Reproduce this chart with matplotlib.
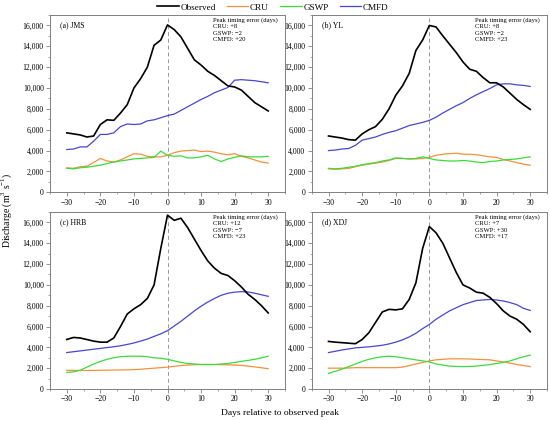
import matplotlib
matplotlib.use("Agg")
import matplotlib.pyplot as plt
from matplotlib.ticker import FuncFormatter, MultipleLocator
import numpy as np

plt.rcParams['font.family'] = ['Liberation Serif', 'DejaVu Serif']
plt.rcParams['mathtext.fontset'] = 'custom'
plt.rcParams['mathtext.rm'] = 'Liberation Serif'

days = list(range(-30, 31, 2))

# Panel (a) JMS
jms_obs  = [5700, 5600, 5500, 5300, 5400, 6500, 6950, 6900, 7600, 8400, 10000, 10900, 12000, 14100, 14600,
            16050, 15600, 14900, 13800, 12700, 12200, 11600, 11200, 10700, 10200, 10100, 9800, 9200, 8600, 8200, 7800]
jms_cru  = [2350, 2300, 2450, 2500, 2850, 3250, 3000, 2900, 3100, 3400, 3700, 3650, 3450, 3400, 3400,
            3550, 3800, 3950, 4000, 4050, 3900, 3950, 3850, 3700, 3600, 3700, 3450, 3300, 3100, 2900, 2800]
jms_gswp = [2300, 2250, 2350, 2400, 2500, 2600, 2750, 2900, 3000, 3100, 3200, 3250, 3300, 3350, 3950,
            3550, 3450, 3500, 3300, 3300, 3400, 3550, 3200, 2950, 3200, 3350, 3500, 3400, 3400, 3400, 3450]
jms_cmfd = [4100, 4150, 4350, 4350, 4900, 5550, 5550, 5700, 6300, 6550, 6500, 6550, 6850, 6950, 7150,
            7350, 7500, 7850, 8200, 8550, 8900, 9200, 9550, 9800, 10050, 10750, 10800, 10750, 10700, 10600, 10500]

# Panel (b) YL
yl_obs  = [5400, 5300, 5200, 5050, 5000, 5600, 6000, 6300, 7000, 8000, 9300, 10200, 11400, 13600, 14600,
           16000, 15850, 15000, 14200, 13400, 12500, 11800, 11600, 11000, 10500, 10500, 10100, 9500, 8900, 8400, 7950]
yl_cru  = [2250, 2200, 2250, 2300, 2450, 2600, 2700, 2800, 2900, 3050, 3250, 3250, 3200, 3200, 3250,
           3350, 3550, 3650, 3700, 3750, 3650, 3650, 3600, 3500, 3400, 3350, 3150, 3000, 2850, 2700, 2600]
yl_gswp = [2300, 2250, 2300, 2400, 2500, 2650, 2750, 2850, 3000, 3100, 3300, 3250, 3200, 3250, 3400,
           3250, 3100, 3050, 3000, 3000, 3050, 3000, 2900, 2850, 2950, 3000, 3100, 3150, 3200, 3300, 3400]
yl_cmfd = [4000, 4050, 4150, 4200, 4500, 5000, 5150, 5300, 5550, 5750, 5900, 6150, 6400, 6550, 6700,
           6900, 7200, 7600, 7950, 8300, 8600, 9000, 9350, 9650, 9950, 10300, 10400, 10400, 10300, 10250, 10150]

# Panel (c) HRB
hrb_obs  = [4760, 4950, 4900, 4750, 4600, 4500, 4500, 4900, 6000, 7200, 7700, 8100, 8700, 10000, 13500,
            16700, 16200, 16400, 15500, 14400, 13300, 12300, 11600, 11100, 10900, 10400, 9800, 9100, 8600, 8000, 7300]
hrb_cru  = [1800, 1790, 1780, 1780, 1790, 1800, 1810, 1820, 1830, 1840, 1860, 1900, 1950, 2000, 2050,
            2100, 2180, 2250, 2300, 2340, 2350, 2360, 2350, 2340, 2320, 2300, 2260, 2200, 2120, 2040, 1950]
hrb_gswp = [1600, 1650, 1800, 2100, 2400, 2650, 2850, 3000, 3100, 3150, 3150, 3150, 3100, 3000, 2950,
            2850, 2700, 2550, 2450, 2400, 2350, 2350, 2350, 2400, 2450, 2550, 2650, 2750, 2850, 3000, 3150]
hrb_cmfd = [3500, 3580, 3660, 3740, 3820, 3900, 3980, 4060, 4150, 4280, 4420, 4600, 4800, 5050, 5300,
            5600, 6050, 6500, 7000, 7500, 7950, 8350, 8700, 9000, 9200, 9300, 9350, 9320, 9200, 9050, 8900]

# Panel (d) XDJ
xdj_obs  = [4570, 4500, 4450, 4400, 4350, 4750, 5400, 6400, 7400, 7650, 7600, 7700, 8600, 10200, 13500,
            15600, 15000, 14000, 12600, 11200, 10000, 9700, 9300, 9200, 8800, 8200, 7500, 7000, 6700, 6200, 5500]
xdj_cru  = [2000, 2000, 2000, 2020, 2050, 2050, 2050, 2050, 2050, 2050, 2050, 2100, 2250, 2400, 2550,
            2700, 2800, 2850, 2900, 2900, 2900, 2880, 2850, 2830, 2800, 2700, 2600, 2480, 2350, 2250, 2150]
xdj_gswp = [1500, 1700, 1900, 2150, 2400, 2650, 2850, 3000, 3100, 3150, 3100, 3000, 2900, 2800, 2700,
            2600, 2400, 2300, 2200, 2170, 2150, 2170, 2200, 2270, 2350, 2450, 2550, 2700, 2900, 3100, 3250]
xdj_cmfd = [3500, 3620, 3750, 3850, 3950, 4000, 4050, 4120, 4200, 4330, 4500, 4720, 5000, 5350, 5800,
            6200, 6700, 7100, 7500, 7800, 8100, 8300, 8500, 8550, 8600, 8550, 8450, 8300, 8100, 7750, 7550]

panel_labels = ["(a) JMS", "(b) YL", "(c) HRB", "(d) XDJ"]
timing_errors = [["+8", "\u22122", "+20"], ["+8", "\u22122", "+23"],
                 ["+12", "\u22127", "+23"], ["+7", "+30", "+17"]]
series_names = ["Observed", "CRU", "GSWP", "CMFD"]
colors = ["#000000", "#F5903C", "#3CDB3C", "#4646D2"]
widths = [1.2, 0.9, 0.9, 0.9]

panels = [
    [jms_obs, jms_cru, jms_gswp, jms_cmfd],
    [yl_obs, yl_cru, yl_gswp, yl_cmfd],
    [hrb_obs, hrb_cru, hrb_gswp, hrb_cmfd],
    [xdj_obs, xdj_cru, xdj_gswp, xdj_cmfd],
]

fig = plt.figure(figsize=(5.5, 4.21), dpi=100)
W, H = 550.0, 421.0
boxes = [
    (50, 15, 285, 192.3),
    (311.7, 15, 547, 192.3),
    (50, 212, 285, 389),
    (311.7, 212, 547, 389),
]
spine_col = "#808080"
handles = None
for i, (x0, y0, x1, y1) in enumerate(boxes):
    ax = fig.add_axes([x0 / W, 1 - y1 / H, (x1 - x0) / W, (y1 - y0) / H])
    ax.axvline(0, color="#999999", lw=0.7, ls=(0, (4, 3)), zorder=1)
    hs = []
    for s, vals in enumerate(panels[i]):
        h, = ax.plot(days, vals, color=colors[s], lw=widths[s], label=series_names[s],
                     zorder=5 if s == 0 else 3)
        hs.append(h)
    if handles is None:
        handles = hs
    ax.set_xlim(-35, 35)
    ax.set_ylim(0, 17000)
    ax.xaxis.set_major_locator(MultipleLocator(10))
    ax.xaxis.set_minor_locator(MultipleLocator(5))
    ax.yaxis.set_major_locator(MultipleLocator(2000))
    ax.yaxis.set_minor_locator(MultipleLocator(1000))
    ax.yaxis.set_major_formatter(FuncFormatter(lambda v, p: f"{int(v):,}"))
    ax.xaxis.set_major_formatter(FuncFormatter(lambda v, p: f"{int(v)}".replace("-", "\u2212")))
    ax.tick_params(which="major", direction="out", length=3, width=0.6, labelsize=5.6,
                   color=spine_col, pad=1.5)
    ax.tick_params(which="minor", direction="out", length=1.6, width=0.5, color=spine_col)
    for sp in ax.spines.values():
        sp.set_color(spine_col)
        sp.set_linewidth(0.7)
    ax.text(0.043, 0.944, panel_labels[i], transform=ax.transAxes, fontsize=5.6,
            ha="left", va="center")
    e = timing_errors[i]
    ax.text(0.694, 0.99, "Peak timing error (days)\nCRU: %s\nGSWP: %s\nCMFD: %s" % (e[0], e[1], e[2]),
            transform=ax.transAxes, fontsize=4.8, ha="left", va="top", linespacing=1.4)

fig.legend(handles=handles, labels=series_names, loc="center", bbox_to_anchor=(273 / W, 1 - 7.5 / H),
           ncol=4, frameon=False, fontsize=6.6, handlelength=2.3, handletextpad=0.2,
           columnspacing=1.25, borderaxespad=0, borderpad=0)
fig.text(7 / W, 1 - 210 / H, "Discharge (m$^{3}$ s$^{-1}$)", rotation=90, ha="center", va="center",
         fontsize=7)
fig.text(280 / W, 1 - 413 / H, "Days relative to observed peak", ha="center", va="center", fontsize=6.8)

fig.savefig("out.png", dpi=100)
